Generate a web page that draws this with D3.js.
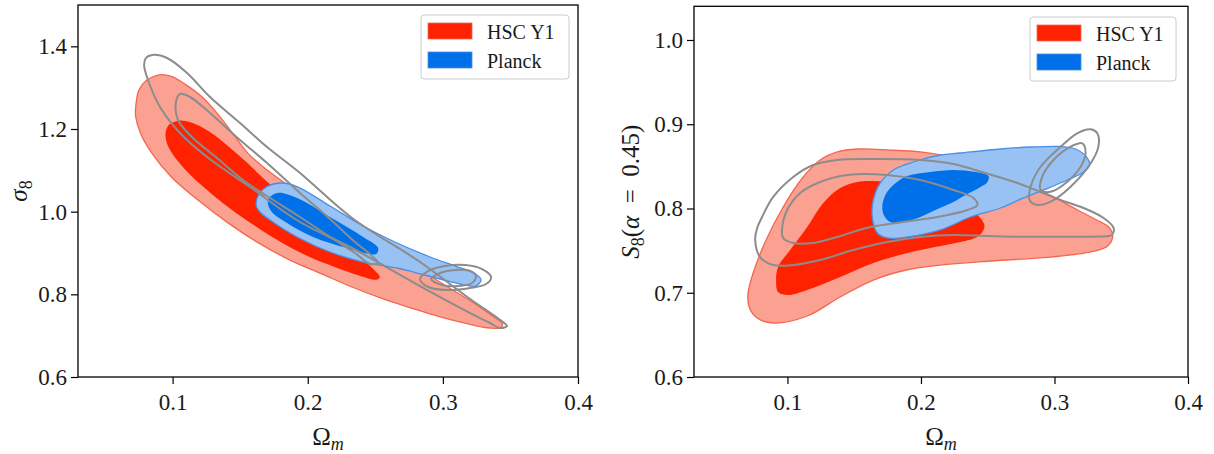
<!DOCTYPE html>
<html>
<head>
<meta charset="utf-8">
<script src="https://cdn.jsdelivr.net/npm/d3@7"></script>
<style>
  html, body { margin: 0; padding: 0; background: #ffffff; }
  svg { display: block; }
  text { font-family: "Liberation Serif", "DejaVu Serif", serif; fill: #1a1a1a; }
</style>
</head>
<body>
<svg id="chart" width="1214" height="454"></svg>
<script>
// ---------------- DATA ----------------
const xTicks = [0.1, 0.2, 0.3, 0.4];
const leftYTicks = [0.6, 0.8, 1.0, 1.2, 1.4];
const rightYTicks = [0.6, 0.7, 0.8, 0.9, 1.0];
const legendLabels = ["HSC Y1", "Planck"];

// Left panel (Omega_m, sigma_8)
const leftHscOuter = [[0.0727,1.2532],[0.0750,1.2935],[0.0807,1.3177],[0.0892,1.3306],[0.0991,1.3274],[0.1105,1.3056],[0.1219,1.2774],[0.1332,1.2371],[0.1446,1.1887],[0.1560,1.1403],[0.1702,1.1000],[0.1872,1.0597],[0.2043,1.0194],[0.2213,0.9790],[0.2412,0.9387],[0.2639,0.8984],[0.2838,0.8581],[0.3037,0.8177],[0.3236,0.7774],[0.3378,0.7452],[0.3440,0.7290],[0.3429,0.7194],[0.3349,0.7185],[0.3179,0.7290],[0.2980,0.7452],[0.2781,0.7653],[0.2554,0.7895],[0.2327,0.8177],[0.2099,0.8500],[0.1872,0.8823],[0.1645,0.9226],[0.1418,0.9710],[0.1190,1.0274],[0.0991,1.0839],[0.0849,1.1403],[0.0764,1.1887],[0.0727,1.2290]];
const leftHscInner = [[0.0949,1.1927],[0.0977,1.2113],[0.1048,1.2202],[0.1148,1.2145],[0.1276,1.1927],[0.1418,1.1565],[0.1560,1.1161],[0.1702,1.0718],[0.1929,1.0113],[0.2156,0.9548],[0.2355,0.8984],[0.2483,0.8621],[0.2534,0.8419],[0.2511,0.8355],[0.2384,0.8452],[0.2213,0.8645],[0.1986,0.8944],[0.1759,0.9347],[0.1531,0.9831],[0.1332,1.0315],[0.1134,1.0879],[0.1006,1.1363],[0.0955,1.1685]];
const leftPlanckOuter = [[0.1618,1.0161],[0.1640,1.0427],[0.1706,1.0621],[0.1810,1.0693],[0.1928,1.0596],[0.2165,1.0137],[0.2410,0.9653],[0.2661,0.9242],[0.2906,0.8903],[0.3091,0.8685],[0.3231,0.8516],[0.3283,0.8346],[0.3239,0.8201],[0.3128,0.8250],[0.2980,0.8371],[0.2809,0.8516],[0.2661,0.8637],[0.2410,0.8782],[0.2165,0.9024],[0.1921,0.9387],[0.1721,0.9798],[0.1647,0.9991]];
const leftPlanckInner = [[0.1706,1.0282],[0.1773,1.0451],[0.1921,1.0330],[0.2165,0.9871],[0.2410,0.9387],[0.2521,0.9120],[0.2506,0.8975],[0.2291,0.9120],[0.2039,0.9387],[0.1847,0.9725],[0.1729,1.0016]];
const leftGrayOuter = [[0.0848,1.3790],[0.0959,1.3718],[0.1107,1.3355],[0.1277,1.2774],[0.1499,1.2145],[0.1699,1.1564],[0.1943,1.0935],[0.2328,0.9846],[0.2831,0.8782],[0.3202,0.7887],[0.3424,0.7378],[0.3475,0.7233],[0.3424,0.7185],[0.3350,0.7306],[0.3202,0.7548],[0.2831,0.8201],[0.2328,0.9121],[0.1943,0.9750],[0.1573,1.0596],[0.1255,1.1322],[0.1055,1.1903],[0.0907,1.2532],[0.0818,1.3185],[0.0789,1.3548],[0.0803,1.3718]];
const leftGrayInner = [[0.1025,1.2653],[0.1055,1.2847],[0.1129,1.2774],[0.1277,1.2387],[0.1499,1.1734],[0.1699,1.1177],[0.1943,1.0451],[0.2165,0.9822],[0.2350,0.9266],[0.2476,0.8927],[0.2521,0.8758],[0.2461,0.8734],[0.2350,0.9000],[0.2165,0.9387],[0.1943,0.9871],[0.1699,1.0379],[0.1521,1.0766],[0.1329,1.1298],[0.1151,1.1782],[0.1040,1.2218]];
const leftGrayLoopOuter = [[0.2831,0.8370],[0.2891,0.8564],[0.3016,0.8685],[0.3165,0.8709],[0.3290,0.8612],[0.3357,0.8419],[0.3320,0.8249],[0.3202,0.8153],[0.3031,0.8104],[0.2891,0.8177]];
const leftGrayLoopInner = [[0.2913,0.8370],[0.2980,0.8515],[0.3091,0.8588],[0.3202,0.8564],[0.3246,0.8443],[0.3216,0.8274],[0.3113,0.8201],[0.2994,0.8225]];

// Right panel (Omega_m, S_8(alpha=0.45))
const rightHscOuter = [[0.0705,0.6997],[0.0743,0.7234],[0.0840,0.7626],[0.0968,0.8018],[0.1118,0.8374],[0.1245,0.8576],[0.1373,0.8671],[0.1523,0.8706],[0.1770,0.8694],[0.1995,0.8671],[0.2235,0.8611],[0.2521,0.8493],[0.2821,0.8279],[0.2993,0.8137],[0.3173,0.7982],[0.3316,0.7864],[0.3406,0.7780],[0.3436,0.7674],[0.3398,0.7555],[0.3271,0.7484],[0.2971,0.7424],[0.2521,0.7377],[0.2145,0.7329],[0.1890,0.7270],[0.1643,0.7151],[0.1395,0.6950],[0.1148,0.6724],[0.0893,0.6641],[0.0773,0.6700],[0.0713,0.6831]];
const rightHscInner = [[0.0915,0.7151],[0.0930,0.7306],[0.1020,0.7507],[0.1148,0.7780],[0.1268,0.8065],[0.1395,0.8243],[0.1523,0.8315],[0.1643,0.8327],[0.1845,0.8291],[0.2070,0.8196],[0.2295,0.8042],[0.2415,0.7935],[0.2476,0.7792],[0.2431,0.7674],[0.2295,0.7602],[0.2145,0.7555],[0.1898,0.7472],[0.1643,0.7353],[0.1395,0.7187],[0.1148,0.7033],[0.1005,0.6973],[0.0930,0.7009]];
const rightPlanckOuter = [[0.1635,0.7899],[0.1643,0.8101],[0.1695,0.8303],[0.1793,0.8457],[0.1943,0.8552],[0.2145,0.8635],[0.2295,0.8659],[0.2596,0.8706],[0.2821,0.8730],[0.3046,0.8736],[0.3158,0.8706],[0.3241,0.8611],[0.3263,0.8516],[0.3218,0.8433],[0.3098,0.8338],[0.2918,0.8220],[0.2768,0.8125],[0.2596,0.8006],[0.2371,0.7899],[0.2145,0.7745],[0.1898,0.7662],[0.1748,0.7650],[0.1673,0.7709]];
const rightPlanckInner = [[0.1710,0.8018],[0.1733,0.8160],[0.1793,0.8279],[0.1898,0.8386],[0.2070,0.8433],[0.2243,0.8457],[0.2408,0.8433],[0.2506,0.8386],[0.2498,0.8315],[0.2446,0.8255],[0.2333,0.8160],[0.2243,0.8077],[0.2108,0.7982],[0.1995,0.7899],[0.1845,0.7828],[0.1770,0.7840],[0.1725,0.7911]];
const rightGrayOuter = [[0.0758,0.7626],[0.0773,0.7769],[0.0810,0.7899],[0.0893,0.8137],[0.1043,0.8374],[0.1193,0.8516],[0.1373,0.8576],[0.1620,0.8588],[0.1995,0.8576],[0.2243,0.8528],[0.2483,0.8421],[0.2723,0.8303],[0.2896,0.8196],[0.3046,0.8101],[0.3218,0.8006],[0.3368,0.7887],[0.3443,0.7769],[0.3428,0.7685],[0.3323,0.7668],[0.2971,0.7665],[0.2746,0.7665],[0.2498,0.7674],[0.2243,0.7685],[0.1995,0.7662],[0.1748,0.7602],[0.1493,0.7507],[0.1245,0.7389],[0.1043,0.7329],[0.0893,0.7329],[0.0795,0.7424]];
const rightGrayInner = [[0.0960,0.7769],[0.0998,0.7982],[0.1095,0.8184],[0.1245,0.8315],[0.1448,0.8398],[0.1748,0.8398],[0.1995,0.8338],[0.2243,0.8220],[0.2393,0.8125],[0.2423,0.8042],[0.2348,0.7982],[0.2123,0.7899],[0.1868,0.7840],[0.1620,0.7780],[0.1373,0.7662],[0.1193,0.7591],[0.1043,0.7591],[0.0968,0.7650]];
const rightGrayLoopOuter = [[0.3271,0.8940],[0.3321,0.8893],[0.3329,0.8734],[0.3271,0.8537],[0.3121,0.8259],[0.2971,0.8081],[0.2871,0.8042],[0.2813,0.8101],[0.2821,0.8259],[0.2896,0.8496],[0.3046,0.8734],[0.3171,0.8893]];
const rightGrayLoopInner = [[0.3209,0.8774],[0.3233,0.8655],[0.3196,0.8496],[0.3096,0.8318],[0.2971,0.8199],[0.2896,0.8220],[0.2908,0.8378],[0.2993,0.8576],[0.3121,0.8734]];

// ---------------- STYLE ----------------
const C = {
  redLight: "#fba192", redEdge: "#f5664f", redDark: "#ff2200",
  blueLight: "#98c2f4", blueEdge: "#4a8fe6", blueDark: "#0070e8",
  gray: "#8c8c8c"
};

const svg = d3.select("#chart");
svg.append("rect").attr("width", 1214).attr("height", 454).attr("fill", "#fff");

function drawPanel(cfg) {
  const x = d3.scaleLinear().domain([0.03, 0.4]).range([cfg.x0, cfg.x1]);
  const y = d3.scaleLinear().domain(cfg.yDomain).range([cfg.y1, cfg.y0]);
  const line = d3.line().x(d => x(d[0])).y(d => y(d[1])).curve(d3.curveCatmullRomClosed.alpha(0.5));
  const g = svg.append("g");

  g.append("path").attr("d", line(cfg.hscOuter)).attr("fill", C.redLight).attr("stroke", C.redEdge).attr("stroke-width", 1.3);
  g.append("path").attr("d", line(cfg.hscInner)).attr("fill", C.redDark).attr("stroke", "none");
  g.append("path").attr("d", line(cfg.planckOuter)).attr("fill", C.blueLight).attr("stroke", C.blueEdge).attr("stroke-width", 1.3);
  g.append("path").attr("d", line(cfg.planckInner)).attr("fill", C.blueDark).attr("stroke", "none");
  [cfg.grayOuter, cfg.grayInner, cfg.loopOuter, cfg.loopInner].forEach(pts => {
    g.append("path").attr("d", line(pts)).attr("fill", "none").attr("stroke", C.gray).attr("stroke-width", 2);
  });

  // frame
  g.append("rect").attr("x", cfg.x0).attr("y", cfg.y0).attr("width", cfg.x1 - cfg.x0).attr("height", cfg.y1 - cfg.y0)
    .attr("fill", "none").attr("stroke", "#000").attr("stroke-width", 1.3);

  const fmt = d3.format(".1f");
  const ax = g.append("g").attr("transform", `translate(0,${cfg.y1})`)
    .call(d3.axisBottom(x).tickValues(xTicks).tickSize(7).tickPadding(10).tickFormat(fmt));
  const ay = g.append("g").attr("transform", `translate(${cfg.x0},0)`)
    .call(d3.axisLeft(y).tickValues(cfg.yTicks).tickSize(7).tickPadding(4).tickFormat(fmt));
  [ax, ay].forEach(a => {
    a.select(".domain").remove();
    a.selectAll(".tick line").attr("stroke", "#000").attr("stroke-width", 1.2);
    a.selectAll(".tick text").attr("font-family", "Liberation Serif, serif").attr("font-size", 23).attr("fill", "#1a1a1a");
  });

  // x label
  const cx = (cfg.x0 + cfg.x1) / 2;
  const xl = g.append("text").attr("x", cx).attr("y", 445).attr("text-anchor", "middle").attr("font-size", 25);
  xl.append("tspan").text("Ω");
  xl.append("tspan").attr("font-style", "italic").attr("font-size", 18).attr("dy", 5).text("m");

  // y label
  const cy = (cfg.y0 + cfg.y1) / 2;
  const yl = g.append("text").attr("transform", `translate(${cfg.yLabelX},${cy}) rotate(-90)`)
    .attr("text-anchor", "middle").attr("font-size", 25);
  cfg.yLabel(yl);

  // legend
  const L = cfg.legend;
  g.append("rect").attr("x", L.x).attr("y", L.y).attr("width", L.w).attr("height", L.h).attr("rx", 3)
    .attr("fill", "#fff").attr("fill-opacity", 0.8).attr("stroke", "#cccccc").attr("stroke-width", 1);
  const legColors = [[C.redDark, C.redEdge], [C.blueDark, C.blueEdge]];
  legendLabels.forEach((lab, i) => {
    const ty = L.y + 8 + i * 29;
    g.append("rect").attr("x", L.x + 7).attr("y", ty).attr("width", 44).attr("height", 16)
      .attr("fill", legColors[i][0]).attr("stroke", legColors[i][1]).attr("stroke-width", 0.8);
    g.append("text").attr("x", L.x + 66).attr("y", ty + 15.5).attr("font-size", 20).text(lab);
  });
}

drawPanel({
  x0: 78, x1: 578, y0: 5, y1: 377, yDomain: [0.6, 1.5], yTicks: leftYTicks, yLabelX: 27,
  hscOuter: leftHscOuter, hscInner: leftHscInner, planckOuter: leftPlanckOuter, planckInner: leftPlanckInner,
  grayOuter: leftGrayOuter, grayInner: leftGrayInner, loopOuter: leftGrayLoopOuter, loopInner: leftGrayLoopInner,
  legend: { x: 421, y: 15, w: 148, h: 64 },
  yLabel: t => {
    t.append("tspan").attr("font-style", "italic").text("σ");
    t.append("tspan").attr("font-size", 18).attr("dy", 5).text("8");
  }
});

drawPanel({
  x0: 694, x1: 1188, y0: 6.3, y1: 377, yDomain: [0.6, 1.04], yTicks: rightYTicks, yLabelX: 639,
  hscOuter: rightHscOuter, hscInner: rightHscInner, planckOuter: rightPlanckOuter, planckInner: rightPlanckInner,
  grayOuter: rightGrayOuter, grayInner: rightGrayInner, loopOuter: rightGrayLoopOuter, loopInner: rightGrayLoopInner,
  legend: { x: 1030, y: 17, w: 146, h: 64 },
  yLabel: t => {
    t.append("tspan").attr("font-style", "italic").text("S");
    t.append("tspan").attr("font-size", 18).attr("dy", 5).text("8");
    t.append("tspan").attr("dy", -5).text("(");
    t.append("tspan").attr("font-style", "italic").text("α");
    t.append("tspan").text("\u2002=\u20020.45)");
  }
});
</script>
</body>
</html>
